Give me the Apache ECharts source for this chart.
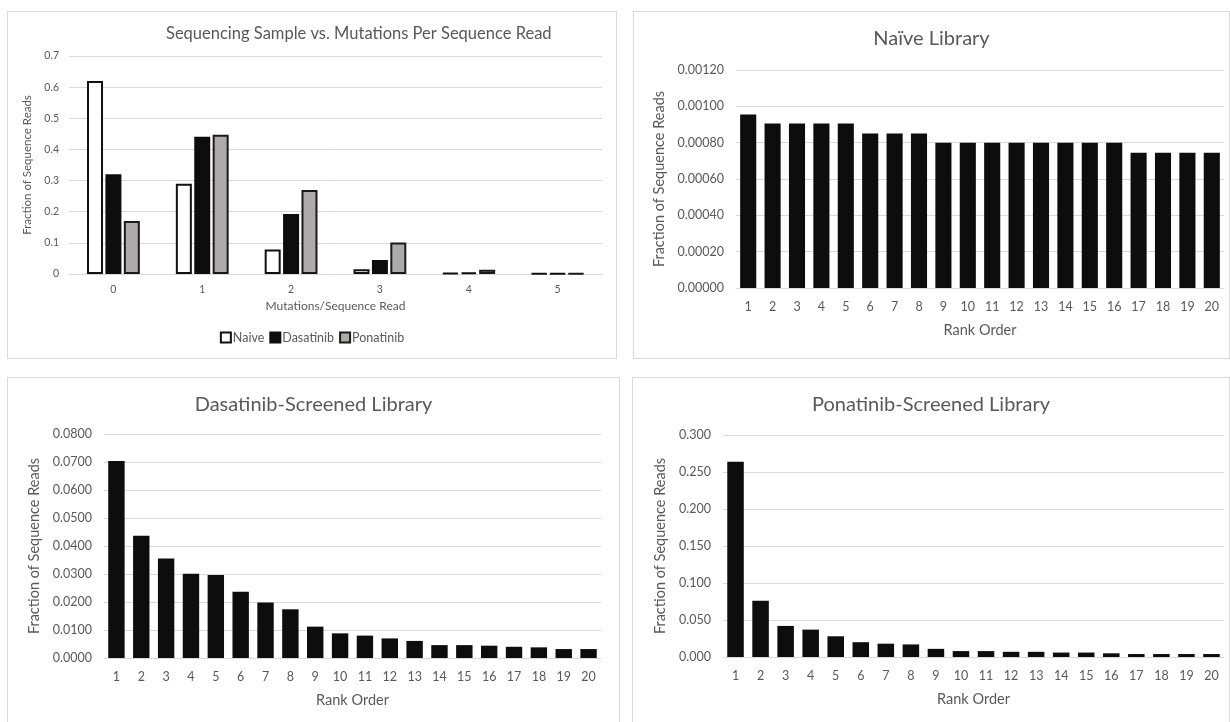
<!DOCTYPE html>
<html>
<head>
<meta charset="utf-8">
<script src="https://cdn.jsdelivr.net/npm/echarts@6/dist/echarts.min.js"></script>
<style>
  html, body { margin: 0; padding: 0; background: #fff; width: 1230px; height: 722px; overflow: hidden; }
  .panel { position: absolute; box-sizing: border-box; border: 1px solid #d9d9d9; background: #fff; }
</style>
</head>
<body>
<div id="mutations" class="panel" style="left:7px;top:11px;width:610px;height:348px"></div>
<div id="naive" class="panel" style="left:633px;top:11px;width:597px;height:348px"></div>
<div id="dasatinib" class="panel" style="left:7px;top:377px;width:613px;height:360px"></div>
<div id="ponatinib" class="panel" style="left:632px;top:377px;width:598px;height:360px"></div>

<script>
const FONT = 'Lato, "Open Sans", sans-serif'
const TXT = '#595959'
const GRID = '#d9d9d9'

// mutations per sequence read
const mutationCats = ['0', '1', '2', '3', '4', '5']
const naiveFrac = [0.62, 0.29, 0.079, 0.015, 0.003, 0.002]
const dasatinibFrac = [0.32, 0.441, 0.193, 0.045, 0.005, 0.002]
const ponatinibFrac = [0.17, 0.447, 0.27, 0.101, 0.014, 0.002]

// rank order libraries
const rankCats = ['1', '2', '3', '4', '5', '6', '7', '8', '9', '10',
  '11', '12', '13', '14', '15', '16', '17', '18', '19', '20']
const naiveLib = [0.000955, 0.000905, 0.000905, 0.000905, 0.000905, 0.00085, 0.00085, 0.00085,
  0.0008, 0.0008, 0.0008, 0.0008, 0.0008, 0.0008, 0.0008, 0.0008,
  0.000745, 0.000745, 0.000745, 0.000745]
const dasatinibLib = [0.0704, 0.0437, 0.0355, 0.0301, 0.0296, 0.0237, 0.0198, 0.0174, 0.0112, 0.0088,
  0.0080, 0.0070, 0.0061, 0.0046, 0.0046, 0.0044, 0.0040, 0.0038, 0.0032, 0.0032]
const ponatinibLib = [0.264, 0.076, 0.042, 0.037, 0.028, 0.020, 0.018, 0.017, 0.011, 0.008,
  0.008, 0.007, 0.007, 0.006, 0.006, 0.005, 0.004, 0.004, 0.004, 0.004]

const mutChart = echarts.init(document.getElementById('mutations'))
mutChart.setOption({
  animation: false,
  textStyle: {fontFamily: FONT},
  title: {
    text: 'Sequencing Sample vs. Mutations Per Sequence Read',
    left: 153,
    top: 8,
    textStyle: {fontFamily: FONT, fontSize: 16.5, fontWeight: 'normal', color: TXT}
  },
  legend: {
    left: 'center',
    top: 314,
    icon: 'rect',
    itemWidth: 10,
    itemHeight: 10,
    itemGap: 5,
    textStyle: {fontFamily: FONT, fontSize: 12.5, color: TXT, padding: [0, 0, 0, -3]},
    data: ['Naive', 'Dasatinib', 'Ponatinib']
  },
  grid: {left: 61, right: 14, top: 44, bottom: 84},
  xAxis: {
    type: 'category',
    data: mutationCats,
    name: 'Mutations/Sequence Read',
    nameLocation: 'middle',
    nameGap: 26,
    nameTextStyle: {fontFamily: FONT, fontSize: 12, color: TXT},
    axisLine: {lineStyle: {color: GRID}},
    axisTick: {show: false},
    axisLabel: {fontFamily: FONT, fontSize: 10.5, color: TXT, margin: 10}
  },
  yAxis: {
    type: 'value',
    min: 0,
    max: 0.7,
    interval: 0.1,
    name: 'Fraction of Sequence Reads',
    nameLocation: 'middle',
    nameRotate: 90,
    nameGap: 29,
    nameTextStyle: {fontFamily: FONT, fontSize: 11.5, color: TXT},
    axisLabel: {fontFamily: FONT, fontSize: 10.5, color: TXT, margin: 10},
    splitLine: {lineStyle: {color: GRID}}
  },
  series: [
    {
      name: 'Naive', type: 'bar', data: naiveFrac, barWidth: 16, barGap: '15%',
      itemStyle: {color: '#ffffff', borderColor: '#111', borderWidth: 2}
    },
    {
      name: 'Dasatinib', type: 'bar', data: dasatinibFrac, barWidth: 16, barGap: '15%',
      itemStyle: {color: '#0d0d0d', borderColor: '#0d0d0d', borderWidth: 2}
    },
    {
      name: 'Ponatinib', type: 'bar', data: ponatinibFrac, barWidth: 16, barGap: '15%',
      itemStyle: {color: '#aeaaaa', borderColor: '#1a1a1a', borderWidth: 2}
    }
  ]
})

const rankChart = (id, title, values, max, interval, digits, grid, nameGap) => {
  const chart = echarts.init(document.getElementById(id))
  chart.setOption({
    animation: false,
    textStyle: {fontFamily: FONT},
    title: {
      text: title,
      left: 'center',
      top: 12,
      textStyle: {fontFamily: FONT, fontSize: 20, fontWeight: 'normal', color: TXT}
    },
    grid: grid,
    xAxis: {
      type: 'category',
      data: rankCats,
      name: 'Rank Order',
      nameLocation: 'middle',
      nameGap: 35,
      nameTextStyle: {fontFamily: FONT, fontSize: 14.5, color: TXT},
      axisLine: {lineStyle: {color: GRID}},
      axisTick: {show: false},
      axisLabel: {fontFamily: FONT, fontSize: 12.5, color: TXT, margin: 12, interval: 0}
    },
    yAxis: {
      type: 'value',
      min: 0,
      max: max,
      interval: interval,
      name: 'Fraction of Sequence Reads',
      nameLocation: 'middle',
      nameRotate: 90,
      nameGap: nameGap,
      nameTextStyle: {fontFamily: FONT, fontSize: 14.5, color: TXT},
      axisLabel: {fontFamily: FONT, fontSize: 12.5, color: TXT, margin: 12, formatter: v => v.toFixed(digits)},
      splitLine: {lineStyle: {color: GRID}}
    },
    series: [{
      type: 'bar',
      data: values,
      barCategoryGap: '34%',
      itemStyle: {color: '#0d0d0d'}
    }]
  })
}

rankChart('naive', 'Naïve Library', naiveLib, 0.0012, 0.0002, 5,
  {left: 102, right: 5, top: 58, bottom: 70}, 64)
rankChart('dasatinib', 'Dasatinib-Screened Library', dasatinibLib, 0.08, 0.01, 4,
  {left: 96, right: 18, top: 56, bottom: 78}, 58)
rankChart('ponatinib', 'Ponatinib-Screened Library', ponatinibLib, 0.3, 0.05, 3,
  {left: 90, right: 5, top: 57, bottom: 79}, 52)
</script>
</body>
</html>
